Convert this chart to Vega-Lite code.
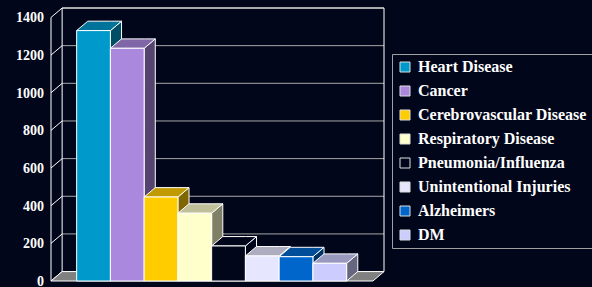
{
  "$schema": "https://vega.github.io/schema/vega-lite/v6.json",
  "width": 333,
  "height": 273,
  "autosize": {"type": "none"},
  "padding": {"left": 51, "top": 8, "right": 208, "bottom": 6},
  "background": "#02061a",
  "config": {"view": {"stroke": null}},
  "datasets": {
    "deaths": [
      {"cause": "Heart Disease", "deaths": 1330},
      {"cause": "Cancer", "deaths": 1236},
      {"cause": "Cerebrovascular Disease", "deaths": 446},
      {"cause": "Respiratory Disease", "deaths": 360},
      {"cause": "Pneumonia/Influenza", "deaths": 186},
      {"cause": "Unintentional Injuries", "deaths": 133},
      {"cause": "Alzheimers", "deaths": 129},
      {"cause": "DM", "deaths": 94}
    ],
    "ticks": [{"v": 0}, {"v": 200}, {"v": 400}, {"v": 600}, {"v": 800}, {"v": 1000}, {"v": 1200}, {"v": 1400}],
    "one": [{"k": 1}]
  },
  "resolve": {"scale": {"fill": "independent"}},
  "layer": [
    {
      "data": {"name": "ticks"},
      "transform": [
        {"calculate": "datum.v + 50", "as": "v2"},
        {"calculate": "0.33", "as": "a"},
        {"calculate": "9.867", "as": "b"}
      ],
      "mark": {"type": "rule", "color": "#a8a8a8", "strokeWidth": 1},
      "encoding": {
        "x": {"field": "a", "type": "quantitative", "scale": {"domain": [0, 9.867], "nice": false, "zero": false},
              "axis": {"values": [0, 9.54], "labels": false, "domain": false, "grid": false, "ticks": true, "tickColor": "#ffffff", "tickSize": 5, "title": null}},
        "x2": {"field": "b"},
        "y": {"field": "v2", "type": "quantitative", "scale": {"domain": [0, 1450], "nice": false, "zero": false},
              "axis": {"values": [0, 200, 400, 600, 800, 1000, 1200, 1400], "labels": false, "domain": false, "grid": false, "tickColor": "#ffffff", "tickSize": 4, "title": null}}
      }
    },
    {
      "data": {"name": "ticks"},
      "transform": [{"calculate": "0", "as": "a"}],
      "mark": {"type": "text", "align": "right", "baseline": "middle", "dx": -7, "dy": 1, "color": "#ffffff", "font": "Liberation Serif", "fontSize": 14, "fontWeight": "bold"},
      "encoding": {
        "x": {"field": "a", "type": "quantitative", "axis": null},
        "y": {"field": "v", "type": "quantitative", "axis": null},
        "text": {"field": "v", "type": "quantitative", "format": "d"}
      }
    },
    {
      "data": {"name": "ticks"},
      "transform": [
        {"calculate": "datum.v + 50", "as": "v2"},
        {"calculate": "0", "as": "a"},
        {"calculate": "0.33", "as": "b"}
      ],
      "mark": {"type": "rule", "color": "#ffffff", "strokeWidth": 1},
      "encoding": {
        "x": {"field": "a", "type": "quantitative", "axis": null},
        "x2": {"field": "b"},
        "y": {"field": "v", "type": "quantitative", "axis": null},
        "y2": {"field": "v2"}
      }
    },
    {
      "data": {"name": "one"},
      "transform": [
        {"calculate": "[0.33, 9.867, 0.33, 0]", "as": "a"},
        {"calculate": "[0.33, 9.867, 9.867, 0]", "as": "b"},
        {"calculate": "[50, 50, 1450, 0]", "as": "c"},
        {"calculate": "[1450, 1450, 1450, 1400]", "as": "d"},
        {"flatten": ["a", "b", "c", "d"]}
      ],
      "mark": {"type": "rule", "color": "#ffffff", "strokeWidth": 1},
      "encoding": {
        "x": {"field": "a", "type": "quantitative", "axis": null},
        "x2": {"field": "b"},
        "y": {"field": "c", "type": "quantitative", "axis": null},
        "y2": {"field": "d"}
      }
    },
    {
      "data": {"name": "one"},
      "transform": [
        {"calculate": "[0, 0.33, 9.54, 9.867]", "as": "fx"},
        {"calculate": "[0, 0, 0, 50]", "as": "fy"},
        {"calculate": "[0, 50, 50, 50]", "as": "fy2"},
        {"flatten": ["fx", "fy", "fy2"]}
      ],
      "mark": {"type": "area", "orient": "vertical", "fill": "#808080", "stroke": "#ffffff", "strokeWidth": 1},
      "encoding": {
        "x": {"field": "fx", "type": "quantitative", "axis": null},
        "y": {"field": "fy", "type": "quantitative", "stack": null, "axis": null},
        "y2": {"field": "fy2"}
      }
    },
    {
      "data": {"name": "deaths"},
      "transform": [
        {"window": [{"op": "row_number", "as": "idx"}]},
        {"calculate": "[datum.idx + 0.76, datum.idx + 1.09]", "as": "sx"},
        {"calculate": "[0, 50]", "as": "sy"},
        {"calculate": "[datum.deaths, datum.deaths + 50]", "as": "sy2"},
        {"flatten": ["sx", "sy", "sy2"]}
      ],
      "mark": {"type": "area", "orient": "vertical", "stroke": "#ffffff", "strokeWidth": 1},
      "encoding": {
        "x": {"field": "sx", "type": "quantitative", "axis": null},
        "y": {"field": "sy", "type": "quantitative", "stack": null, "axis": null},
        "y2": {"field": "sy2"},
        "fill": {"field": "cause", "type": "nominal", "legend": null,
                 "scale": {"domain": ["Heart Disease", "Cancer", "Cerebrovascular Disease", "Respiratory Disease", "Pneumonia/Influenza", "Unintentional Injuries", "Alzheimers", "DM"],
                           "range": ["#004d66", "#55446f", "#806600", "#808066", "#02061a", "#737380", "#003366", "#666680"]}}
      }
    },
    {
      "data": {"name": "deaths"},
      "transform": [
        {"window": [{"op": "row_number", "as": "idx"}]},
        {"calculate": "[datum.idx - 0.24, datum.idx + 0.09, datum.idx + 0.76, datum.idx + 1.09]", "as": "tx"},
        {"calculate": "[datum.deaths, datum.deaths, datum.deaths, datum.deaths + 50]", "as": "ty"},
        {"calculate": "[datum.deaths, datum.deaths + 50, datum.deaths + 50, datum.deaths + 50]", "as": "ty2"},
        {"flatten": ["tx", "ty", "ty2"]}
      ],
      "mark": {"type": "area", "orient": "vertical", "stroke": "#ffffff", "strokeWidth": 1},
      "encoding": {
        "x": {"field": "tx", "type": "quantitative", "axis": null},
        "y": {"field": "ty", "type": "quantitative", "stack": null, "axis": null},
        "y2": {"field": "ty2"},
        "fill": {"field": "cause", "type": "nominal", "legend": null,
                 "scale": {"domain": ["Heart Disease", "Cancer", "Cerebrovascular Disease", "Respiratory Disease", "Pneumonia/Influenza", "Unintentional Injuries", "Alzheimers", "DM"],
                           "range": ["#00739a", "#7f66a6", "#c09a00", "#bfbf99", "#02061a", "#adadbf", "#004d99", "#9999bf"]}}
      }
    },
    {
      "data": {"name": "deaths"},
      "transform": [
        {"window": [{"op": "row_number", "as": "idx"}]},
        {"calculate": "datum.idx - 0.24", "as": "x0"},
        {"calculate": "datum.idx + 0.76", "as": "x1"},
        {"calculate": "0", "as": "base"}
      ],
      "mark": {"type": "rect", "stroke": "#ffffff", "strokeWidth": 1},
      "encoding": {
        "x": {"field": "x0", "type": "quantitative", "axis": null},
        "x2": {"field": "x1"},
        "y": {"field": "deaths", "type": "quantitative", "axis": null},
        "y2": {"field": "base"},
        "fill": {"field": "cause", "type": "nominal",
                 "scale": {"domain": ["Heart Disease", "Cancer", "Cerebrovascular Disease", "Respiratory Disease", "Pneumonia/Influenza", "Unintentional Injuries", "Alzheimers", "DM"],
                           "range": ["#0099cc", "#a988dd", "#ffcc00", "#ffffcc", "#02061a", "#e6e6ff", "#0066cc", "#ccccff"]},
                 "legend": {"orient": "none", "legendX": 341, "legendY": 46, "title": null, "padding": 5, "strokeColor": "#a0a0a0",
                            "symbolType": "square", "symbolSize": 100, "symbolStrokeColor": "#dddddd", "symbolStrokeWidth": 1,
                            "labelColor": "#ffffff", "labelFont": "Liberation Serif", "labelFontSize": 16, "labelFontWeight": "bold",
                            "labelLimit": 0, "labelOffset": 5, "rowPadding": 8}}
      }
    }
  ]
}
